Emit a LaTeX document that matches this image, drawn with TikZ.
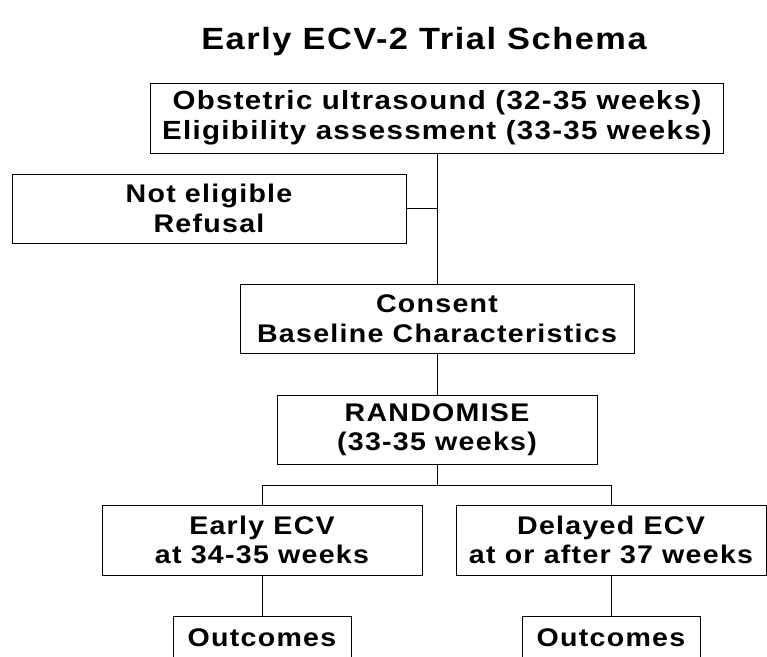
\documentclass[tikz,border=0pt]{standalone}
\usepackage{fontspec}
\setmainfont{Liberation Sans}[FakeStretch=1.12,LetterSpace=5]
\usepackage{tikz}
\tikzset{
    x=1pt, y=-1pt, line width=2pt,
    stage/.style ={rectangle, draw, inner sep=0pt, align=center, minimum height=70pt,
                   font=\bfseries\fontsize{25.5}{29.5}\selectfont},
    bigstage/.style ={stage, font=\bfseries\fontsize{26.3}{29.5}\selectfont},
    result/.style ={stage, minimum width=178pt, minimum height=44pt},
    heading/.style ={font=\bfseries\fontsize{30.7}{34}\selectfont}
    }

\begin{document}
\begin{tikzpicture}
    \clip (0,0) rectangle (767,656);

    \node[heading] (0) at (424,42) {Early ECV-2 Trial Schema};
    \node[bigstage, minimum width=573pt] (1) at (437,118)
        {Obstetric ultrasound (32-35 weeks)\\Eligibility assessment (33-35 weeks)};
    \node[stage, minimum width=394pt, minimum height=69pt] (2) at (209,208.5) {Not eligible\\Refusal};
    \node[stage, minimum width=394pt, minimum height=69pt] (3) at (437,318.5) {Consent\\Baseline Characteristics};
    \node[stage, minimum width=320pt, minimum height=69pt] (4) at (437,429.5) {RANDOMISE\\(33-35 weeks)};
    \node[stage, minimum width=320pt] (5) at (262,540) {Early ECV\\at 34-35 weeks};
    \node[stage, minimum width=310pt] (6) at (611,540) {Delayed ECV\\at or after 37 weeks};
    \node[result] (7) at (262,638) {Outcomes};
    \node[result] (8) at (611,638) {Outcomes};
    \coordinate (split) at (437,485);

    \path (1) edge (3);
    \path (3) edge (4);
    \draw (2.east) -- (2.east -| 1.south);
    \draw (4) -- (split);
    \draw (5.north) |- (split) -| (6.north);
    \path (5) edge (7);
    \path (6) edge (8);

\end{tikzpicture}
\end{document}
